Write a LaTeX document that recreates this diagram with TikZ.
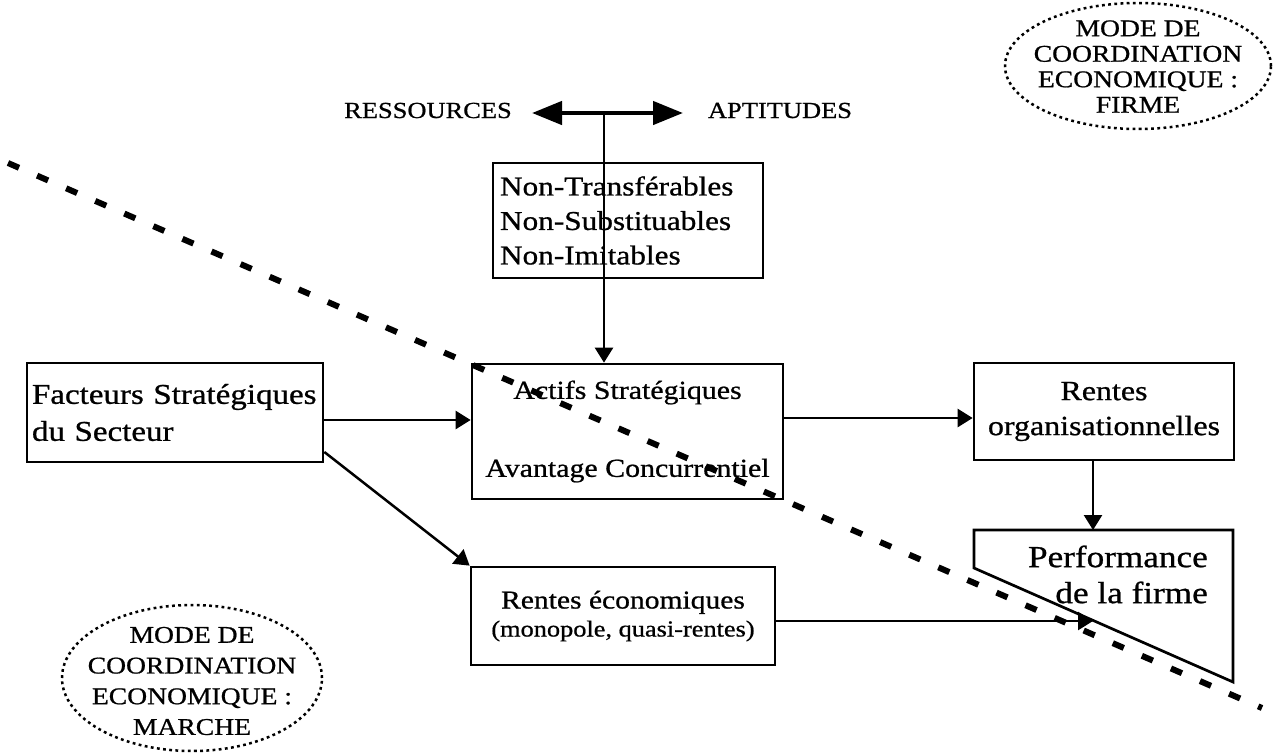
\documentclass[tikz,border=0pt]{standalone}
\usepackage{fontspec}
\setmainfont{Liberation Serif}[FakeStretch=1.15,FakeBold=0.8]
\usetikzlibrary{arrows.meta,calc}
\newcommand\fsz[2]{\fontsize{#1}{#2}\selectfont}
\begin{document}
\begin{tikzpicture}[x=1pt,y=-1pt,
  box/.style={draw,line width=2.7pt,inner sep=0pt},
  arr/.style={line width=2.5pt,-{Triangle[length=15pt,width=18pt]}},
  dbl/.style={line width=4.5pt,{Triangle[length=30pt,width=23pt]}-{Triangle[length=30pt,width=23pt]}},
  ell/.style={line width=2.5pt,dash pattern=on 2.8pt off 3.4pt},
  sep/.style={line width=6pt,dash pattern=on 12pt off 19.7pt}]
\useasboundingbox (0,0) rectangle (1278,753);

% ellipses
\node[inner sep=0pt,align=center,font=\fsz{24}{25.5}] (firme) at (1138,66.5) {MODE DE\\COORDINATION\\ECONOMIQUE :\\FIRME};
\draw[ell] (1138,66) ellipse [x radius=133pt,y radius=63pt];
\node[inner sep=0pt,align=center,font=\fsz{24}{30.7}] (marche) at (192,681) {MODE DE\\COORDINATION\\ECONOMIQUE :\\MARCHE};
\draw[ell] (192,678) ellipse [x radius=130pt,y radius=73pt];

% top labels
\node[inner sep=0pt,anchor=base,font=\fsz{23}{27}] (res) at (428,118) {RESSOURCES};
\node[inner sep=0pt,anchor=base,font=\fsz{23}{27}] (apt) at (780,118) {APTITUDES};

% boxes
\node[box,minimum width=270pt,minimum height=115pt,text width=256pt,align=left,font=\fsz{27.2}{34.5}] (nt) at (628,220.5) {Non-Transférables\\Non-Substituables\\Non-Imitables};
\node[box,minimum width=296pt,minimum height=99pt,text width=286pt,align=left,font=\fsz{28.7}{37}] (fact) at (175,412.5) {Facteurs Stratégiques\\du Secteur};
\node[box,minimum width=311pt,minimum height=135pt,align=center,font=\fsz{26}{78}] (act) at (627.5,431.5) {Actifs Stratégiques\\Avantage Concurrentiel};
\node[box,minimum width=260pt,minimum height=97pt,align=center,font=\fsz{27.8}{35}] (rorg) at (1104,411.5) {Rentes\\organisationnelles};
\node[box,minimum width=304pt,minimum height=98pt,align=center,font=\fsz{25.7}{28}] (reco) at (623,616) {Rentes économiques\\{\fsz{22.9}{28}(monopole, quasi-rentes)}};

% performance shape
\coordinate (pTL) at (974,530);
\coordinate (pTR) at (1233,530);
\coordinate (pBR) at (1233,682);
\coordinate (pBL) at (974,568);
\draw[line width=2.7pt,line join=miter] (pTL) -- (pTR) -- (pBR) -- (pBL) -- cycle;
\node[inner sep=0pt,anchor=east,align=right,font=\fsz{30.6}{36}] (perf) at (1208,574.5) {Performance\\de la firme};

% connectors
\coordinate (dl) at (532,113);
\coordinate (dr) at (683,113);
\coordinate (dm) at (604,113);
\draw[dbl] (dl) -- (dr);
\draw[arr] (dm) -- (dm |- act.north);
\draw[arr] (fact.east |- 0,420) -- (act.west |- 0,420);
\draw[arr] (act.east |- 0,418) -- (rorg.west |- 0,418);
\draw[arr] (fact.east |- 0,452) -- (reco.north west);
\coordinate (ptop) at (1093,530);
\draw[arr] (ptop |- rorg.south) -- (ptop);
\coordinate (pslant) at (1093,621);
\draw[arr] (reco.east |- pslant) -- (pslant);

% separator
\draw[sep] (8,163) -- (1262,708);
\end{tikzpicture}
\end{document}
